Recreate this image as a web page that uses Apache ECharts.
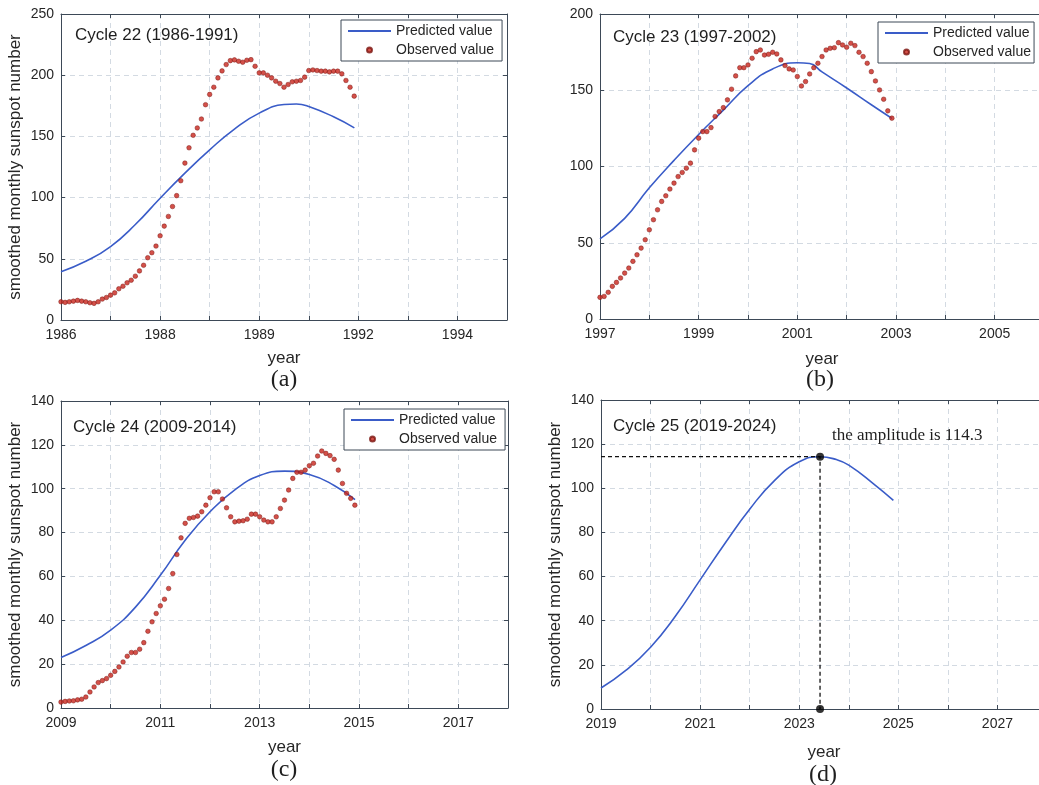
<!DOCTYPE html>
<html>
<head>
<meta charset="utf-8">
<script src="https://cdn.jsdelivr.net/npm/echarts@6/dist/echarts.min.js"></script>
<style>
html,body{margin:0;padding:0;background:#ffffff;}
#chart{width:1039px;height:785px;}
</style>
</head>
<body>
<div id="chart"></div>
<script>
// ---------------- DATA ----------------
// Cycle 22 (1986-1991): monthly observed values starting Jan 1986
const cycle22Start = 1986;
const cycle22Observed = [14.9,14.4,14.9,15.4,16.0,15.4,14.9,14.1,13.6,14.9,
  17.1,18.4,20.3,22.2,25.5,27.6,30.4,32.5,35.8,40.1,
  44.7,50.9,55.0,60.4,68.8,76.7,84.6,92.7,101.6,113.8,
  128.2,140.7,150.9,156.9,164.2,175.9,184.3,190.2,197.8,203.5,
  208.7,211.9,212.5,211.4,210.6,212.2,212.7,207.3,201.9,201.9,
  200.0,197.8,195.1,193.2,190.2,192.4,194.6,195.1,195.7,198.4,
  203.8,204.3,203.8,203.3,203.3,202.7,203.3,203.3,201.1,195.7,
  190.2,182.9];
const cycle22PredYears  = [1986,1986.5,1987,1987.5,1988,1988.5,1989,1989.5,1990,1990.5,1990.75,1991,1991.5,1991.92];
const cycle22PredValues = [39.5,48,60,78,99.5,120,139,156,169,176,176.5,174.5,166,157];
const cycle22TickYears  = [1986,1988,1990,1992,1994];
const cycle22TickLabels = ['1986','1988','1989','1992','1994'];

// Cycle 23 (1997-2002)
const cycle23Start = 1997;
const cycle23Observed = [14.2,14.8,17.5,21.4,24.0,26.9,30.1,33.4,37.8,42.1,
  46.5,52.0,58.5,65.1,71.6,77.1,80.8,85.2,89.1,93.4,
  96.1,98.9,102.2,110.9,118.6,122.9,122.9,125.5,132.8,136.0,
  138.6,143.7,150.7,159.4,164.8,164.8,166.6,171.0,175.3,176.4,
  173.1,173.6,174.9,173.8,169.9,166.2,164.0,163.3,159.0,152.8,
  155.7,160.7,164.8,167.7,172.1,176.4,177.5,177.9,181.2,179.7,
  178.2,180.8,179.3,174.9,172.1,167.7,162.2,156.1,150.2,144.1,
  136.5,131.7];
const cycle23PredYears  = [1997,1997.5,1998,1998.5,1999,1999.5,2000,2000.5,2001,2001.25,2001.5,2002,2002.5,2002.92];
const cycle23PredValues = [52.5,66,86,104,121,137,153,164,168,167.5,162,151.5,140.5,131.5];
const cycle23TickYears  = [1997,1999,2001,2003,2005];
const cycle23TickLabels = ['1997','1999','2001','2003','2005'];

// Cycle 24 (2009-2014)
const cycle24Start = 2009;
const cycle24Observed = [2.7,3.0,3.2,3.3,3.7,4.0,5.0,7.3,9.6,11.6,
  12.5,13.4,14.9,16.7,18.7,21.0,23.6,25.3,25.3,26.8,
  29.8,35.0,39.3,43.1,46.6,49.6,54.5,61.3,70.0,77.6,
  84.2,86.5,86.9,87.5,89.5,92.5,95.9,98.6,98.6,95.3,
  91.3,87.2,84.9,85.2,85.4,86.1,88.4,88.4,87.2,85.7,
  84.9,84.9,87.2,91.0,94.8,99.4,104.7,107.5,107.5,108.5,
  110.5,111.6,114.9,117.2,116.1,115.1,113.4,108.5,102.4,97.9,
  95.6,92.5];
const cycle24PredYears  = [2009,2009.5,2010,2010.5,2011,2011.5,2012,2012.5,2013,2013.5,2014,2014.5,2014.92];
const cycle24PredValues = [23,28.5,35.5,46,60.5,76.5,89.5,99.5,106,108,106.5,101.5,95];
const cycle24TickYears  = [2009,2011,2013,2015,2017];
const cycle24TickLabels = ['2009','2011','2013','2015','2017'];

// Cycle 25 (2019-2024): prediction only
const cycle25PredYears  = [2019,2019.5,2020,2020.5,2021,2021.5,2022,2022.5,2023,2023.42,2023.75,2024,2024.5,2024.9];
const cycle25PredValues = [9.5,17.5,28,42,58.5,75,90.5,103.5,112,114.3,113,110.5,102,94.5];
const cycle25TickYears  = [2019,2021,2023,2025,2027];
const cycle25TickLabels = ['2019','2021','2023','2025','2027'];
const cycle25PeakYear  = 2023.42;
const cycle25PeakValue = 114.3;

const panelTitles = ['Cycle 22 (1986-1991)','Cycle 23 (1997-2002)','Cycle 24 (2009-2014)','Cycle 25 (2019-2024)'];
const panelLetters = ['(a)','(b)','(c)','(d)'];
const seriesNames = ['Predicted value','Observed value'];
const yAxisTitle = 'smoothed monthly sunspot number';
const xAxisTitle = 'year';
const amplitudeText = 'the amplitude is 114.3';

// ---------------- STYLE / LAYOUT ----------------
const SANS = '"Liberation Sans", Arial, Helvetica, sans-serif';
const SERIF = '"Liberation Serif", "Times New Roman", serif';
const frameColor = '#3d4957';
const gridColor = '#d3dae2';
const blue = '#3a5cc8';
const red = '#c8241b';

function zip(xs, ys){ return xs.map((x,i)=>[x, ys[i]]); }
function monthly(start, vals){ return vals.map((v,i)=>[start + i/12, v]); }

const panels = [
  {grid:{left:61,top:14,width:446,height:306}, xMin:1986, xMax:1995, yMax:250, yInt:50,
   ticks:cycle22TickYears, labels:cycle22TickLabels, yName:true, xGap:30, rightFrame:true,
   pred:zip(cycle22PredYears,cycle22PredValues), obs:monthly(cycle22Start,cycle22Observed),
   legend:{left:341,top:20,padding:[3,8,3,6]}, title:{x:75,y:35}, letter:{x:284,y:380}},
  {grid:{left:600,top:14,width:444,height:305}, xMin:1997, xMax:2006, yMax:200, yInt:50,
   ticks:cycle23TickYears, labels:cycle23TickLabels, yName:false, xGap:32, rightFrame:false,
   pred:zip(cycle23PredYears,cycle23PredValues), obs:monthly(cycle23Start,cycle23Observed),
   legend:{left:878,top:22,padding:[3,3,3,6]}, title:{x:613,y:37}, letter:{x:820,y:380}},
  {grid:{left:61,top:401,width:447,height:307}, xMin:2009, xMax:2018, yMax:140, yInt:20,
   ticks:cycle24TickYears, labels:cycle24TickLabels, yName:true, xGap:31, rightFrame:true,
   pred:zip(cycle24PredYears,cycle24PredValues), obs:monthly(cycle24Start,cycle24Observed),
   legend:{left:344,top:409,padding:[3,8,3,6]}, title:{x:73,y:427}, letter:{x:284,y:770}},
  {grid:{left:601,top:400,width:446,height:309}, xMin:2019, xMax:2028, yMax:140, yInt:20,
   ticks:cycle25TickYears, labels:cycle25TickLabels, yName:true, xGap:35, rightFrame:false,
   pred:zip(cycle25PredYears,cycle25PredValues), obs:null,
   legend:null, title:{x:613,y:426}, letter:{x:823,y:775}}
];

const grids=[], xAxes=[], yAxes=[], series=[], legends=[], graphics=[];
const axisLine = {show:true, onZero:false, lineStyle:{color:frameColor, width:1}};
const tick = {show:true, inside:true, length:4, lineStyle:{color:frameColor, width:1}};
const split = {show:true, lineStyle:{color:gridColor, width:1, type:[5,4]}};

panels.forEach((p,k)=>{
  grids.push(Object.assign({show:false, containLabel:false, outerBoundsMode:'none'}, p.grid));
  const tickMap = {};
  p.ticks.forEach((t,i)=>{ tickMap[t] = p.labels[i]; });
  xAxes.push({gridIndex:k, type:'value', position:'bottom', min:p.xMin, max:p.xMax, interval:1,
    axisLine:axisLine, axisTick:tick, splitLine:split,
    axisLabel:{show:true, margin:8, color:'#262626', fontFamily:SANS, fontSize:14,
      formatter:(v)=> (tickMap[Math.round(v)]!==undefined && Math.abs(v-Math.round(v))<1e-6) ? tickMap[Math.round(v)] : ''},
    name:xAxisTitle, nameLocation:'middle', nameGap:p.xGap,
    nameTextStyle:{color:'#262626', fontFamily:SANS, fontSize:17}});
  xAxes.push({gridIndex:k, type:'value', position:'top', min:p.xMin, max:p.xMax, interval:1,
    axisLine:axisLine, axisTick:tick, splitLine:{show:false}, axisLabel:{show:false}});
  yAxes.push({gridIndex:k, type:'value', position:'left', min:0, max:p.yMax, interval:p.yInt,
    axisLine:axisLine, axisTick:tick, splitLine:split,
    axisLabel:{show:true, margin:7, color:'#262626', fontFamily:SANS, fontSize:14},
    name:p.yName ? yAxisTitle : '', nameLocation:'middle', nameGap:37,
    nameTextStyle:{color:'#262626', fontFamily:SANS, fontSize:17}});
  yAxes.push({gridIndex:k, type:'value', position:'right', min:0, max:p.yMax, interval:p.yInt,
    show:p.rightFrame,
    axisLine:axisLine, axisTick:tick, splitLine:{show:false}, axisLabel:{show:false}});

  const xi = 2*k, yi = 2*k;
  series.push({name:seriesNames[0], type:'line', xAxisIndex:xi, yAxisIndex:yi, data:p.pred,
    smooth:true, symbol:'none', lineStyle:{color:blue, width:1.6}, itemStyle:{color:blue},
    z:3, silent:true, animation:false});
  if (p.obs){
    series.push({name:seriesNames[1], type:'scatter', xAxisIndex:xi, yAxisIndex:yi, data:p.obs,
      symbol:'circle', symbolSize:4.6, itemStyle:{color:red, borderColor:'#7a1510', borderWidth:0.6},
      z:4, silent:true, animation:false});
  }
  if (p.legend){
    legends.push({show:true, orient:'vertical', left:p.legend.left, top:p.legend.top,
      data:[{name:seriesNames[0], itemStyle:{color:'rgba(0,0,0,0)', borderColor:'rgba(0,0,0,0)', borderWidth:0}},
            {name:seriesNames[1]}],
      itemWidth:43, itemHeight:5, itemGap:3, align:'left',
      padding:p.legend.padding, borderColor:frameColor, borderWidth:1, backgroundColor:'#ffffff',
      borderRadius:0, selectedMode:false,
      textStyle:{color:'#262626', fontFamily:SANS, fontSize:14, lineHeight:16}});
  }
  graphics.push({type:'text', x:p.title.x, y:p.title.y, z:10,
    style:{text:panelTitles[k], fill:'#1f1f1f', font:'17px '+SANS, textVerticalAlign:'middle', textAlign:'left'}});
  graphics.push({type:'text', x:p.letter.x, y:p.letter.y, z:10,
    style:{text:panelLetters[k], fill:'#1f1f1f', font:'24px '+SERIF, textVerticalAlign:'middle', textAlign:'center'}});
});

// Cycle 25 amplitude annotation (dashed guide lines + dots)
series.push({name:'amplitude guide', type:'line', xAxisIndex:6, yAxisIndex:6,
  data:[[2019, cycle25PeakValue],[cycle25PeakYear, cycle25PeakValue],[cycle25PeakYear, 0]],
  symbol:'none', lineStyle:{color:'#111111', width:1.3, type:[4,3]}, z:5, silent:true, animation:false});
series.push({name:'amplitude points', type:'scatter', xAxisIndex:6, yAxisIndex:6,
  data:[[cycle25PeakYear, cycle25PeakValue],[cycle25PeakYear, 0]], clip:false,
  symbol:'circle', symbolSize:8, itemStyle:{color:'#000000'}, z:6, silent:true, animation:false});
graphics.push({type:'text', x:832, y:436, z:10,
  style:{text:amplitudeText, fill:'#1f1f1f', font:'17px '+SERIF, textVerticalAlign:'middle', textAlign:'left'}});

const chart = echarts.init(document.getElementById('chart'), null, {renderer:'canvas'});
chart.setOption({
  backgroundColor:'#ffffff',
  animation:false,
  grid:grids, xAxis:xAxes, yAxis:yAxes, series:series, legend:legends, graphic:graphics,
  tooltip:{show:false}
});
</script>
</body>
</html>
